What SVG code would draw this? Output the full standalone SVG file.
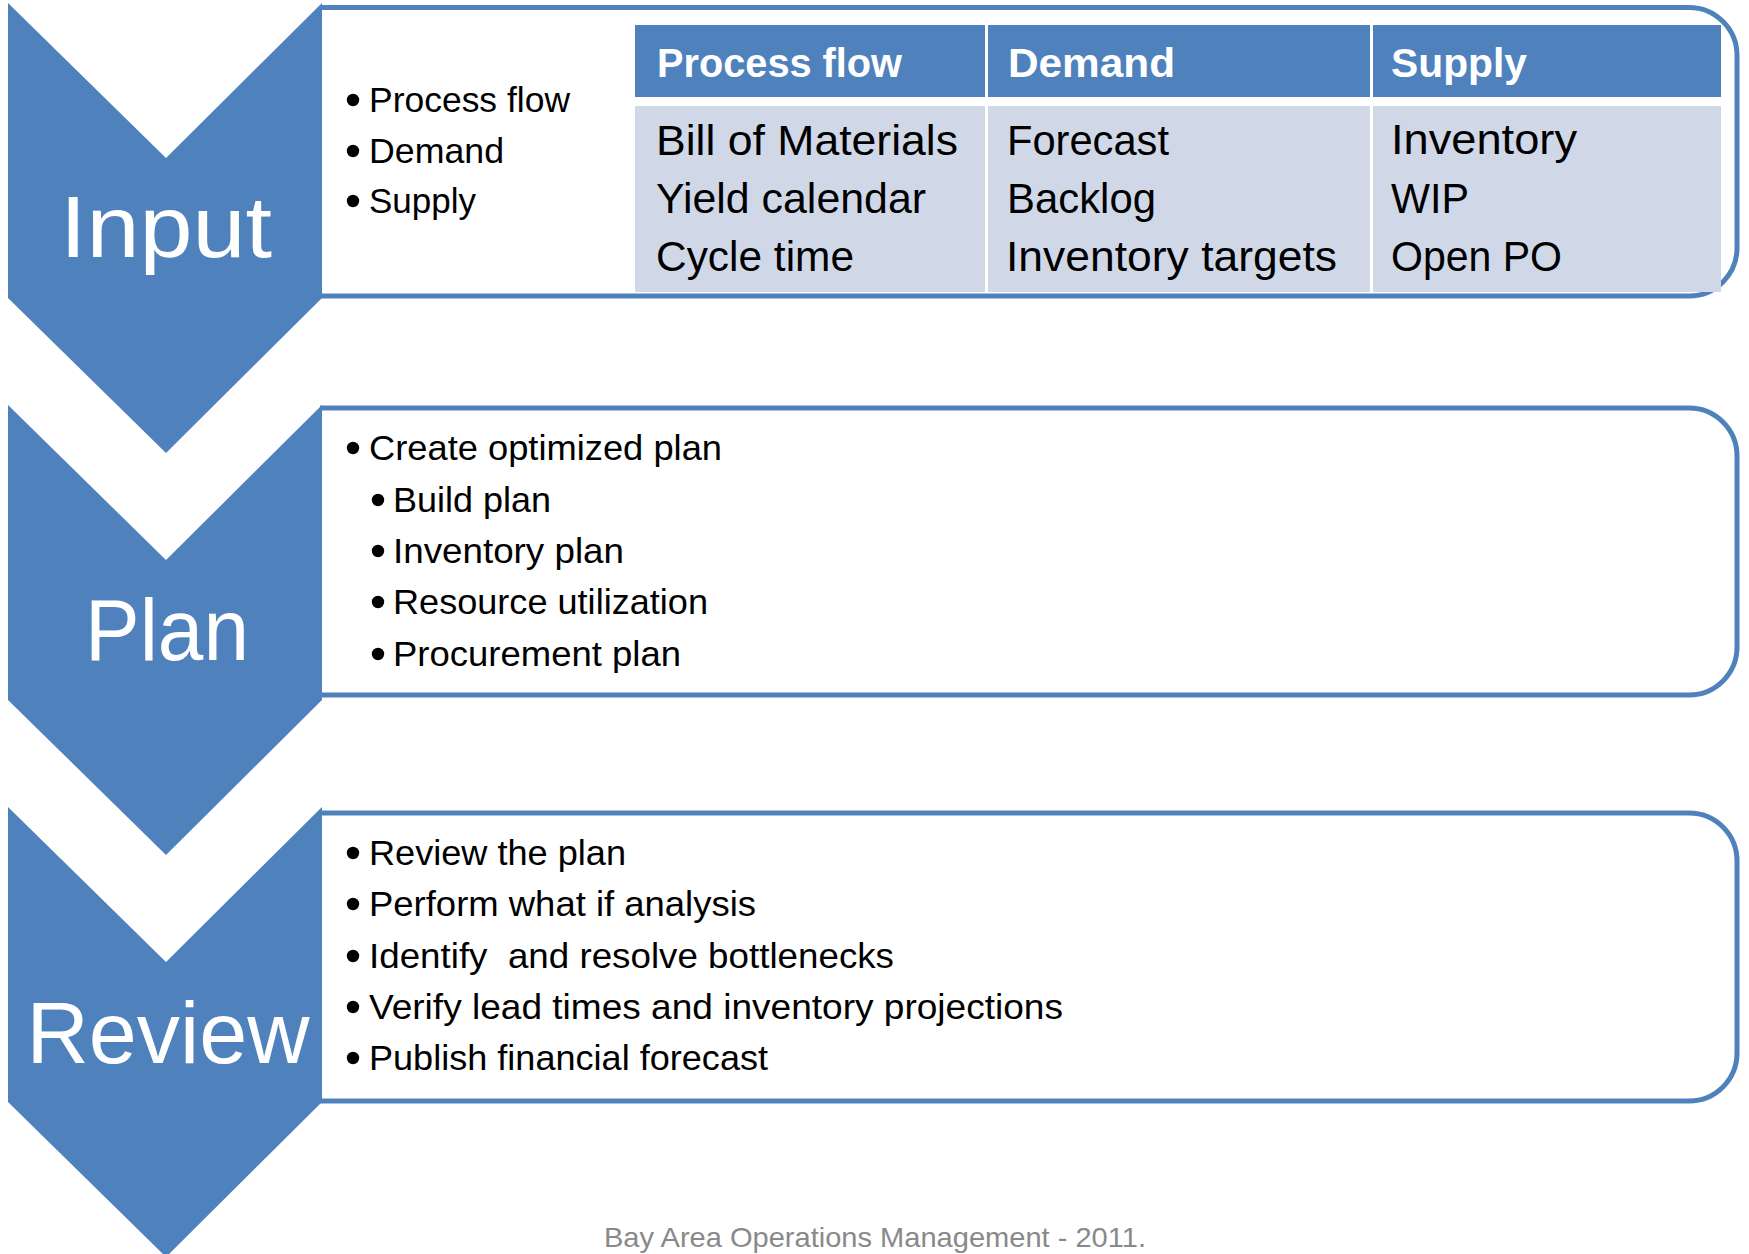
<svg xmlns="http://www.w3.org/2000/svg" width="1749" height="1254" viewBox="0 0 1749 1254">
<style>
.box{fill:#FFFFFF;stroke:#4F81BD;stroke-width:5}
.chev{fill:#4F81BD}
.lbl{font-family:"Liberation Sans",Arial,sans-serif;font-size:88px;fill:#FFFFFF;text-anchor:middle}
.bt{font-family:"Liberation Sans",Arial,sans-serif;font-size:35px;fill:#000000}
.th{font-family:"Liberation Sans",Arial,sans-serif;font-size:40px;font-weight:bold;fill:#FFFFFF}
.td{font-family:"Liberation Sans",Arial,sans-serif;font-size:43px;fill:#000000}
.hdr{fill:#4F81BD}
.body{fill:#D0D8E8}
.dot{fill:#000000}
.foot{font-family:"Liberation Sans",Arial,sans-serif;font-size:28px;fill:#898989}
</style>
<rect width="1749" height="1254" fill="#FFFFFF"/>
<g id="connectors"></g>

<g id="input">
  <path class="box" d="M320 7.5 H1689 A48 48 0 0 1 1737 55.5 V248 A48 48 0 0 1 1689 296 H320"/>
  <polygon class="chev" points="8,3 166,158 322,3 322,298 166,453 8,298"/>
  <text class="lbl" x="166" y="257" textLength="212" lengthAdjust="spacingAndGlyphs">Input</text>
  <circle class="dot" cx="353" cy="100" r="6.2"/>
  <text class="bt" x="369" y="112" textLength="201" lengthAdjust="spacingAndGlyphs">Process flow</text>
  <circle class="dot" cx="353" cy="151" r="6.2"/>
  <text class="bt" x="369" y="163" textLength="135" lengthAdjust="spacingAndGlyphs">Demand</text>
  <circle class="dot" cx="353" cy="201" r="6.2"/>
  <text class="bt" x="369" y="213" textLength="107" lengthAdjust="spacingAndGlyphs">Supply</text>
  <g id="table">
    <rect class="hdr" x="635" y="25" width="350" height="72"/>
    <rect class="hdr" x="988" y="25" width="382" height="72"/>
    <rect class="hdr" x="1373" y="25" width="348" height="72"/>
    <rect class="body" x="635" y="106" width="350" height="186"/>
    <rect class="body" x="988" y="106" width="382" height="186"/>
    <rect class="body" x="1373" y="106" width="348" height="186"/>
    <text class="th" x="657" y="77" textLength="245" lengthAdjust="spacingAndGlyphs">Process flow</text>
    <text class="th" x="1008" y="77" textLength="167" lengthAdjust="spacingAndGlyphs">Demand</text>
    <text class="th" x="1391" y="77" textLength="136" lengthAdjust="spacingAndGlyphs">Supply</text>
    <text class="td" x="656" y="155" textLength="302" lengthAdjust="spacingAndGlyphs">Bill of Materials</text>
    <text class="td" x="656" y="213" textLength="270" lengthAdjust="spacingAndGlyphs">Yield calendar</text>
    <text class="td" x="656" y="271" textLength="198" lengthAdjust="spacingAndGlyphs">Cycle time</text>
    <text class="td" x="1007" y="155" textLength="162" lengthAdjust="spacingAndGlyphs">Forecast</text>
    <text class="td" x="1007" y="213" textLength="149" lengthAdjust="spacingAndGlyphs">Backlog</text>
    <text class="td" x="1006" y="271" textLength="331" lengthAdjust="spacingAndGlyphs">Inventory targets</text>
    <text class="td" x="1391" y="154" textLength="186" lengthAdjust="spacingAndGlyphs">Inventory</text>
    <text class="td" x="1391" y="213" textLength="78" lengthAdjust="spacingAndGlyphs">WIP</text>
    <text class="td" x="1391" y="271" textLength="171" lengthAdjust="spacingAndGlyphs">Open PO</text>
  </g>
</g>

<g id="plan">
  <path class="box" d="M320 408 H1689 A48 48 0 0 1 1737 456 V647 A48 48 0 0 1 1689 695 H320"/>
  <polygon class="chev" points="8,405 166,560 322,405 322,700 166,855 8,700"/>
  <text class="lbl" x="167" y="660" textLength="164" lengthAdjust="spacingAndGlyphs">Plan</text>
  <circle class="dot" cx="353" cy="448" r="6.2"/>
  <text class="bt" x="369" y="460" textLength="353" lengthAdjust="spacingAndGlyphs">Create optimized plan</text>
  <circle class="dot" cx="378" cy="500" r="6.2"/>
  <text class="bt" x="393" y="512" textLength="158" lengthAdjust="spacingAndGlyphs">Build plan</text>
  <circle class="dot" cx="378" cy="551" r="6.2"/>
  <text class="bt" x="393" y="563" textLength="231" lengthAdjust="spacingAndGlyphs">Inventory plan</text>
  <circle class="dot" cx="378" cy="602" r="6.2"/>
  <text class="bt" x="393" y="614" textLength="315" lengthAdjust="spacingAndGlyphs">Resource utilization</text>
  <circle class="dot" cx="378" cy="654" r="6.2"/>
  <text class="bt" x="393" y="666" textLength="288" lengthAdjust="spacingAndGlyphs">Procurement plan</text>
</g>

<g id="review">
  <path class="box" d="M320 813 H1689 A48 48 0 0 1 1737 861 V1053 A48 48 0 0 1 1689 1101 H320"/>
  <polygon class="chev" points="8,807 166,962 322,807 322,1102 166,1257 8,1102"/>
  <text class="lbl" x="168" y="1063" textLength="283" lengthAdjust="spacingAndGlyphs">Review</text>
  <circle class="dot" cx="353" cy="853" r="6.2"/>
  <text class="bt" x="369" y="865" textLength="257" lengthAdjust="spacingAndGlyphs">Review the plan</text>
  <circle class="dot" cx="353" cy="904" r="6.2"/>
  <text class="bt" x="369" y="916" textLength="387" lengthAdjust="spacingAndGlyphs">Perform what if analysis</text>
  <circle class="dot" cx="353" cy="956" r="6.2"/>
  <text class="bt" x="369" y="968" xml:space="preserve" textLength="525" lengthAdjust="spacingAndGlyphs">Identify  and resolve bottlenecks</text>
  <circle class="dot" cx="353" cy="1007" r="6.2"/>
  <text class="bt" x="369" y="1019" textLength="694" lengthAdjust="spacingAndGlyphs">Verify lead times and inventory projections</text>
  <circle class="dot" cx="353" cy="1058" r="6.2"/>
  <text class="bt" x="369" y="1070" textLength="399" lengthAdjust="spacingAndGlyphs">Publish financial forecast</text>
</g>

<g id="footer">
  <text class="foot" x="604" y="1247" textLength="542" lengthAdjust="spacingAndGlyphs">Bay Area Operations Management - 2011.</text>
</g>
</svg>
